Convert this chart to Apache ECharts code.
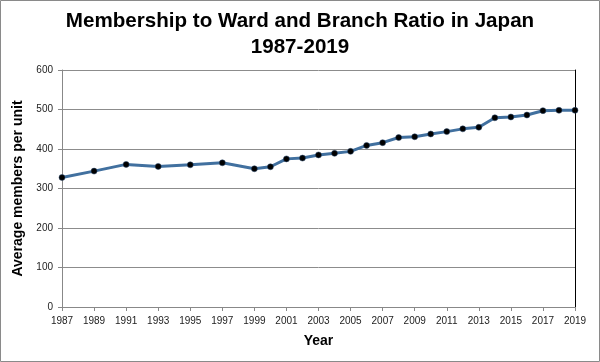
<!DOCTYPE html>
<html>
<head>
<meta charset="utf-8">
<script src="https://cdn.jsdelivr.net/npm/echarts@6/dist/echarts.min.js"></script>
<style>
html,body{margin:0;padding:0;background:#fff;}
#chart{width:600px;height:362px;}
</style>
</head>
<body>
<div id="chart"></div>
<script>
// Data
const dataYears = [1987, 1989, 1991, 1993, 1995, 1997, 1999, 2000, 2001, 2002, 2003, 2004, 2005, 2006, 2007, 2008, 2009, 2010, 2011, 2012, 2013, 2014, 2015, 2016, 2017, 2018, 2019];
const members   = [328, 344, 361, 356, 360, 365, 350, 355, 375, 377, 385, 389, 394, 409, 416, 429, 431, 438, 444, 451, 455, 479, 481, 486, 497, 498, 498];
const yTicks = [0, 100, 200, 300, 400, 500, 600];
const firstYear = 1987, lastYear = 2019;

// Category axis of every year; years without a value stay empty (null)
const categories = [];
for (let y = firstYear; y <= lastYear; y++) categories.push(String(y));
const seriesData = categories.map(c => {
  const i = dataYears.indexOf(Number(c));
  return i >= 0 ? members[i] : null;
});

const chart = echarts.init(document.getElementById('chart'), null, {renderer: 'canvas'});
const labelFont = 'Liberation Sans, Arial, sans-serif';
chart.setOption({
  backgroundColor: '#fff',
  animation: false,
  title: {
    text: 'Membership to Ward and Branch Ratio in Japan\n1987-2019',
    left: 'center',
    top: 8,
    padding: 0,
    textStyle: {fontFamily: labelFont, fontSize: 20.6, fontWeight: 'bold', color: '#000', lineHeight: 26}
  },
  graphic: [{
    type: 'rect', silent: true, z: 100,
    shape: {x: 0.5, y: 0.5, width: 599, height: 361},
    style: {fill: 'none', stroke: '#8a8a8a', lineWidth: 1}
  }],
  grid: {left: 62, right: 25, top: 70, bottom: 55},
  xAxis: {
    type: 'category',
    data: categories,
    boundaryGap: false,
    name: 'Year',
    nameLocation: 'middle',
    nameGap: 27,
    nameTextStyle: {fontFamily: labelFont, fontSize: 14, fontWeight: 'bold', color: '#000'},
    axisLine: {lineStyle: {color: '#888', width: 1}},
    axisTick: {show: true, interval: 1, length: 4, lineStyle: {color: '#888'}},
    axisLabel: {interval: 1, fontFamily: labelFont, fontSize: 10, color: '#222', margin: 9},
    splitLine: {show: false}
  },
  yAxis: [{
    type: 'value',
    min: 0, max: 600, interval: 100,
    name: 'Average members per unit',
    nameLocation: 'middle',
    nameGap: 31,
    nameTextStyle: {fontFamily: labelFont, fontSize: 14, fontWeight: 'bold', color: '#000'},
    axisLine: {show: true, lineStyle: {color: '#888', width: 1}},
    axisTick: {show: true, length: 4, lineStyle: {color: '#888'}},
    axisLabel: {fontFamily: labelFont, fontSize: 10, color: '#222', margin: 9,
      formatter: v => yTicks.includes(v) ? String(v) : ''},
    splitLine: {show: true, lineStyle: {color: '#8c8c8c', width: 1}}
  }, {
    type: 'value',
    position: 'right',
    min: 0, max: 600, interval: 100,
    axisLine: {show: true, lineStyle: {color: '#000', width: 1}},
    axisTick: {show: false},
    axisLabel: {show: false},
    splitLine: {show: false}
  }],
  series: [{
    type: 'line',
    yAxisIndex: 0,
    data: seriesData,
    connectNulls: true,
    symbol: 'circle',
    symbolSize: 6,
    lineStyle: {color: '#41709f', width: 3},
    itemStyle: {color: '#000', borderColor: '#2a4a70', borderWidth: 0.5}
  }]
});
</script>
</body>
</html>
